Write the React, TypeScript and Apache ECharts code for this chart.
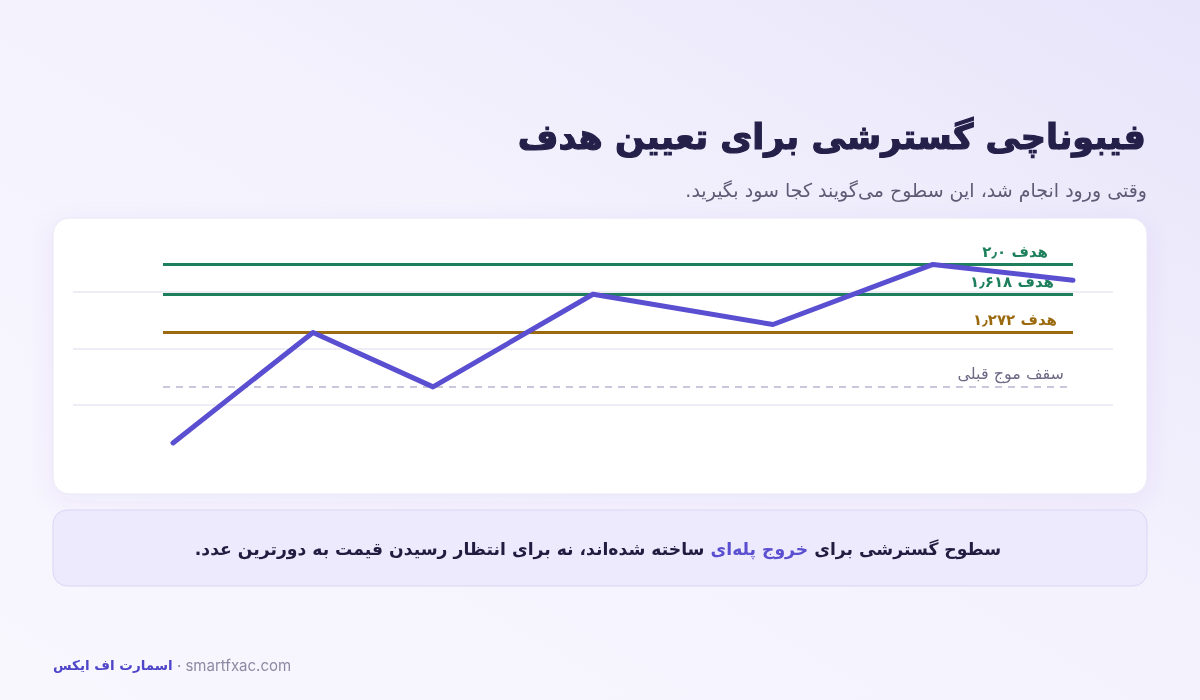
import React, { useEffect, useRef } from "react";
import * as echarts from "echarts";

// ---- data ----
const titleText = "فیبوناچی گسترشی برای تعیین هدف";
const subtitleText = "وقتی ورود انجام شد، این سطوح می‌گویند کجا سود بگیرید.\u200F";
// price path (x = bar position, y = price units)
const pathX = [10, 24, 36, 52, 70, 86, 100];
const pathY = [8.3, 57.2, 33.1, 74.1, 60.7, 87.3, 80.3];
// horizontal levels
const levelNames = ["هدف ۲٫۰", "هدف ۱٫۶۱۸", "هدف ۱٫۲۷۲", "سقف موج قبلی"];
const levelValues = [87.3, 74.1, 57.2, 33.1];
const levelStartX = 9;
const levelEndX = 100;
// callout pieces (visual order left → right)
const calloutEnd = "ساخته شده‌اند، نه برای انتظار رسیدن قیمت به دورترین عدد.\u200F";
const calloutHighlight = "خروج پله‌ای";
const calloutStart = "سطوح گسترشی برای";
const brandName = "اسمارت اف ایکس";
const brandSite = "smartfxac.com";

const FA = "'DejaVu Sans', 'Noto Sans', sans-serif";
const EN = "Inter, 'Noto Sans', sans-serif";

const levelColors = ["#1d7f5b", "#1d7f5b", "#9b6a0f", "#cac7dc"];
const levelLabelColors = ["#1d7f5b", "#1d7f5b", "#9b6a0f", "#6e6a86"];
const levelLineTypes: any[] = ["solid", "solid", "solid", [7, 6]];
const levelWidths = [3, 3, 3, 2];
const levelRightPad = [20, 14, 11, 4];
const levelWeights = ["bold", "bold", "bold", "normal"];
const levelFontSizes = [15, 15, 15, 16];

export default function App() {
  const ref = useRef<HTMLDivElement>(null);
  useEffect(() => {
    if (!ref.current) return;
    const chart = echarts.init(ref.current, undefined, { renderer: "svg" });
    const markData = levelValues.map((v, i) => [
      {
        coord: [levelStartX, v],
        name: levelNames[i],
        lineStyle: { color: levelColors[i], width: levelWidths[i], type: levelLineTypes[i] },
        label: {
          show: true,
          position: "insideEndTop",
          formatter: levelNames[i],
          color: levelLabelColors[i],
          fontFamily: FA,
          fontSize: levelFontSizes[i],
          fontWeight: levelWeights[i],
          distance: 5,
          padding: [0, levelRightPad[i], 0, 0],
        },
      },
      { coord: [levelEndX, v] },
    ]);
    chart.setOption({
      animation: false,
      title: [
        {
          text: titleText,
          right: 53,
          top: 119,
          padding: 0,
          textStyle: {
            fontFamily: FA,
            fontSize: 35,
            fontWeight: "bold",
            color: "#25204a",
            textBorderColor: "#25204a",
            textBorderWidth: 1.2,
          },
        },
        {
          text: subtitleText,
          right: 53,
          top: 180,
          padding: 0,
          textStyle: { fontFamily: FA, fontSize: 19, fontWeight: "normal", color: "#5f5b75" },
        },
      ],
      graphic: [
        {
          type: "rect",
          z: -20,
          shape: { x: 0, y: 0, width: 1200, height: 700 },
          style: {
            fill: new echarts.graphic.LinearGradient(0, 1, 1, 0, [
              { offset: 0, color: "#f8f7fe" },
              { offset: 0.55, color: "#f4f2fd" },
              { offset: 1, color: "#e8e4fa" },
            ]),
          },
          silent: true,
        },
        {
          type: "rect",
          z: -10,
          shape: { x: 53, y: 218, width: 1094, height: 276, r: 16 },
          style: {
            fill: "#ffffff",
            stroke: "#e8e5f6",
            lineWidth: 1,
            shadowBlur: 24,
            shadowOffsetY: 6,
            shadowColor: "rgba(90,79,207,0.07)",
          },
          silent: true,
        },
        {
          type: "rect",
          z: -10,
          shape: { x: 53, y: 510, width: 1094, height: 76, r: 14 },
          style: { fill: "#eeeafd", stroke: "#dbd5f5", lineWidth: 1 },
          silent: true,
        },
        {
          type: "text",
          z: 10,
          x: 598,
          y: 549,
          style: {
            text: `{a|${calloutEnd}}{a| }{b|${calloutHighlight}}{a| }{a|${calloutStart}}`,
            align: "center",
            verticalAlign: "middle",
            rich: {
              a: { fontFamily: FA, fontSize: 17.2, fontWeight: "bold", fill: "#221d40", color: "#221d40" },
              b: { fontFamily: FA, fontSize: 17.2, fontWeight: "bold", fill: "#5a4fd0", color: "#5a4fd0" },
            },
          },
        },
        {
          type: "text",
          z: 10,
          x: 53,
          y: 665,
          style: {
            text: `{b|${brandName}}{g| · ${brandSite}}`,
            align: "left",
            verticalAlign: "middle",
            rich: {
              b: { fontFamily: FA, fontSize: 13.5, fontWeight: "bold", fill: "#4f45c9", color: "#4f45c9" },
              g: { fontFamily: EN, fontSize: 15, fill: "#8c89a2", color: "#8c89a2" },
            },
          },
        },
      ],
      grid: { left: 73, right: 87, top: 235.7, bottom: 238.3, containLabel: false },
      xAxis: {
        type: "value",
        min: 0,
        max: 104,
        show: false,
      },
      yAxis: {
        type: "value",
        min: 0,
        max: 100,
        interval: 25,
        axisLine: { show: false },
        axisTick: { show: false },
        axisLabel: { show: false },
        splitLine: {
          show: true,
          showMinLine: false,
          showMaxLine: false,
          lineStyle: { color: "#e9e7f2", width: 1.5 },
        },
      },
      series: [
        {
          type: "line",
          z: 1,
          data: [],
          silent: true,
          markLine: { symbol: ["none", "none"], silent: true, animation: false, data: markData },
        },
        {
          type: "line",
          z: 5,
          data: pathX.map((x, i) => [x, pathY[i]]),
          showSymbol: false,
          symbol: "none",
          lineStyle: { color: "#5a4fd0", width: 5, cap: "round", join: "round" },
          silent: true,
        },
      ],
    });
    return () => chart.dispose();
  }, []);
  return (
    <div
      ref={ref}
      style={{ position: "fixed", left: 0, top: 0, width: 1200, height: 700 }}
    />
  );
}
